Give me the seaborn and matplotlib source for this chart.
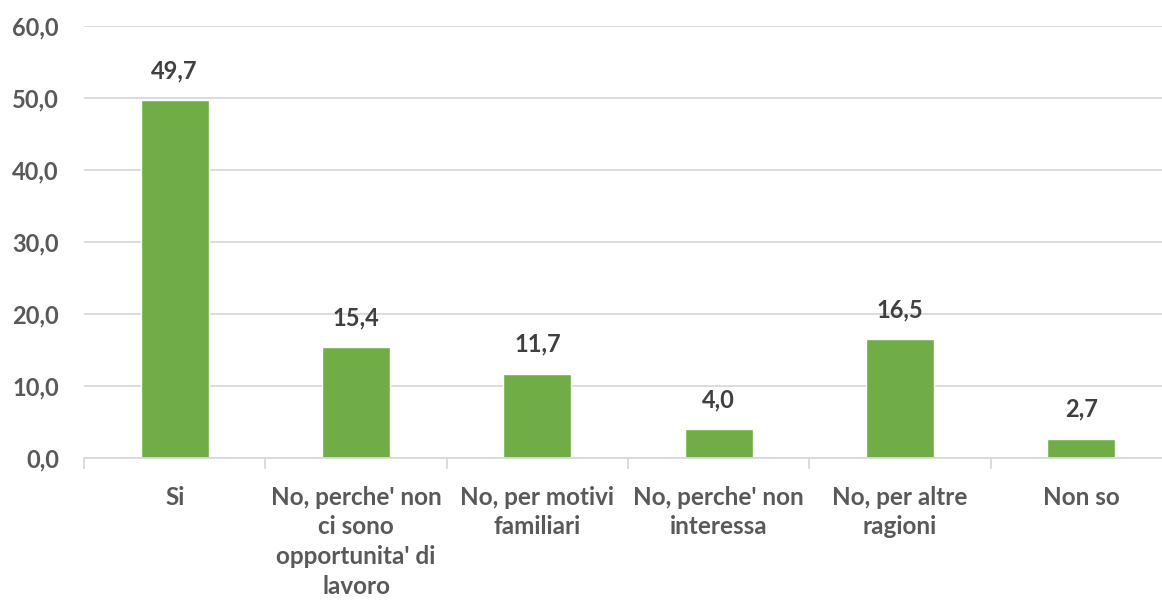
import matplotlib
matplotlib.use("Agg")
import matplotlib.pyplot as plt
import seaborn as sns
import pandas as pd

categories = ["Si", "No, perche' non\nci sono\nopportunita' di\nlavoro", "No, per motivi\nfamiliari",
              "No, perche' non\ninteressa", "No, per altre\nragioni", "Non so"]
values = [49.7, 15.4, 11.7, 4.0, 16.5, 2.7]
yticks = [0, 10, 20, 30, 40, 50, 60]

sns.set_theme(style="white")
plt.rcParams['font.family'] = ['Lato', 'DejaVu Sans']

df = pd.DataFrame({"cat": categories, "val": values})
fig = plt.figure(figsize=(11.62, 6.01), dpi=100)
ax = fig.add_axes([84/1162, 1 - 458/601, (1172-84)/1162, (458-26)/601])
sns.barplot(data=df, x="cat", y="val", color="#70AD47", width=0.375, saturation=1, ax=ax)

ax.set_ylim(0, 60)
ax.set_xlim(-0.5, len(categories) - 0.5)
ax.set_yticks(yticks)
ax.set_yticklabels([f"{v:.1f}".replace(".", ",") for v in yticks], fontsize=17, fontweight="bold", color="#595959")
ax.yaxis.grid(True, color="#D9D9D9", linewidth=1.3)
ax.set_axisbelow(True)
for s in ["top", "right", "left"]:
    ax.spines[s].set_visible(False)
ax.spines["bottom"].set_color("#D9D9D9")
ax.spines["bottom"].set_linewidth(1.3)
ax.tick_params(axis="y", length=0, pad=18)
ax.set_xticks(range(len(categories)))
ax.set_xticklabels(categories, fontsize=17.5, fontweight="bold", color="#595959", linespacing=1.35)
ax.tick_params(axis="x", length=0, pad=20)
# minor ticks between categories
ax.set_xticks([i - 0.5 for i in range(len(categories) + 1)], minor=True)
ax.tick_params(axis="x", which="minor", bottom=True, length=8, width=1.3, color="#D9D9D9", direction="out")
ax.set_xlabel("")
ax.set_ylabel("")

for i, v in enumerate(values):
    ax.annotate(f"{v:.1f}".replace(".", ","), (i, v), xytext=(0, 13), textcoords="offset points",
                ha="center", va="bottom", fontsize=17, fontweight="bold", color="#404040")

fig.savefig("out.png", dpi=100)
